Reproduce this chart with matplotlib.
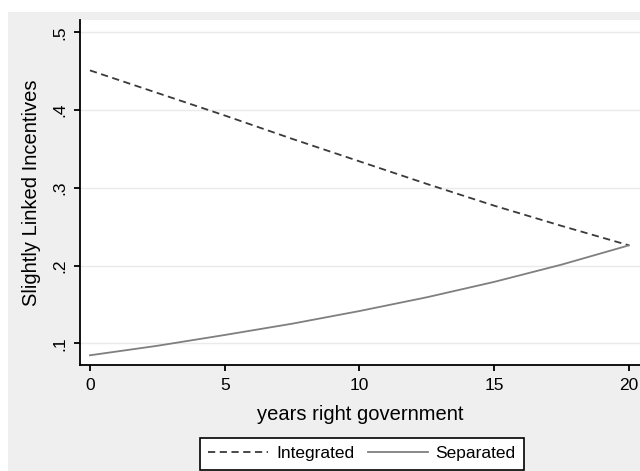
import matplotlib.pyplot as plt
from matplotlib.patches import Rectangle

plt.rcParams['font.family'] = ['Liberation Sans', 'DejaVu Sans']

# years of right government
years = [0, 2.5, 5, 7.5, 10, 12.5, 15, 17.5, 20]
# slightly linked incentives
integrated = [0.451, 0.422, 0.393, 0.363, 0.334, 0.305, 0.277, 0.251, 0.226]
separated = [0.0846, 0.0968, 0.1107, 0.1252, 0.1415, 0.1592, 0.179, 0.2012, 0.226]

xticks = [0, 5, 10, 15, 20]
yticks = [0.1, 0.2, 0.3, 0.4, 0.5]
yticklabels = ['.1', '.2', '.3', '.4', '.5']

fig = plt.figure(figsize=(6.4, 4.71), dpi=100)
fig.patch.set_facecolor('white')
# grey Stata-style graph region
fig.patches.append(Rectangle((8 / 640, 0), 1, 1 - 12 / 471, transform=fig.transFigure,
                             facecolor='#efefef', edgecolor='none', zorder=-10))

ax = fig.add_axes([80 / 640, 1 - 365 / 471, 1 - 80 / 640, (365 - 20) / 471])
ax.set_facecolor('white')

ax.plot(years, integrated, color='#3a3a3a', lw=1.3, ls=(0, (4, 2.5)), label='Integrated')
ax.plot(years, separated, color='#7f7f7f', lw=1.3, label='Separated')

ax.set_xlim(-0.37, 20.41)
ax.set_ylim(0.0721, 0.5158)
ax.set_xticks(xticks)
ax.set_yticks(yticks)
ax.set_yticklabels(yticklabels, rotation=90, va='center')
ax.grid(axis='y', color='#eaeaea', lw=1)
ax.set_axisbelow(True)

for s in ['top', 'right']:
    ax.spines[s].set_visible(False)
for s in ['left', 'bottom']:
    ax.spines[s].set_linewidth(1.3)
ax.tick_params(direction='out', length=4, width=1.3, labelsize=12.5, pad=5)

ax.set_xlabel('years right government', fontsize=14.5, labelpad=9)
ax.set_ylabel('Slightly Linked Incentives', fontsize=14.5, labelpad=8)

leg = fig.legend(loc='lower center', bbox_to_anchor=(362 / 640, 0.0), ncol=2, fontsize=12.5,
                 frameon=True, fancybox=False, edgecolor='black', framealpha=1,
                 handlelength=3.45, handletextpad=0.45, columnspacing=0.8,
                 borderpad=0.5, borderaxespad=0.05)
leg.get_frame().set_linewidth(1.2)

fig.savefig('out.png', dpi=100)
